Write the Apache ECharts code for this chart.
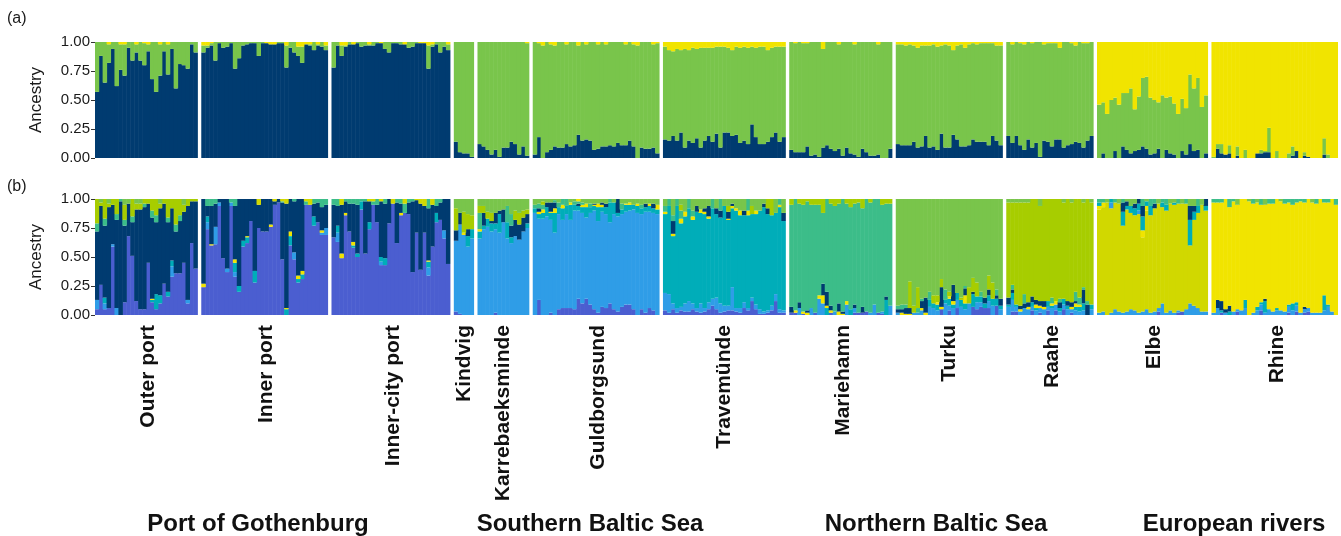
<!DOCTYPE html>
<html><head><meta charset="utf-8">
<script src="https://cdn.jsdelivr.net/npm/echarts@6/dist/echarts.min.js"></script>
<style>html,body{margin:0;padding:0;background:#fff}#c{width:1341px;height:536px}</style>
</head><body><div id="c"></div>
<script>
// ---------------- DATA ----------------
const blockNames = ['Outer port','Inner port','Inner-city port','Kindvig','Karrebaeksminde','Guldborgsund','Travemünde','Mariehamn','Turku','Raahe','Elbe','Rhine'];
const blockSizes = [26,32,30,5,13,32,31,26,27,22,28,32];
const regionNames = ['Port of Gothenburg','Southern Baltic Sea','Northern Baltic Sea','European rivers'];
const yTicks = [0,0.25,0.5,0.75,1];

// Panel (a) K=3 ancestry, one sub-array per population
const A_navy = [
 [.57,.88,.65,.82,.94,.62,.76,.71,.95,.84,.91,.84,.80,.92,.68,.57,.71,.92,.72,.94,.60,.81,.80,.77,.98,.91],
 [.91,.95,.97,.84,.99,.95,.96,.99,.77,.86,.97,.98,.99,.99,.88,.99,.99,.98,.98,.99,.99,.78,.95,.91,.88,.82,.98,.97,.93,.97,.96,.93],
 [.78,.97,.88,.96,.98,.98,.99,.96,.97,.97,.97,.99,.99,.94,.91,.99,.99,.98,.98,.95,.96,.99,.99,.99,.77,.96,.98,.91,.96,.93],
 [.14,.05,.04,.04,.01],
 [.12,.10,.07,.03,.07,.01,.09,.09,.14,.12,.03,.10,.02],
 [.03,.18,0,.05,.07,.10,.09,.09,.12,.10,.11,.20,.15,.16,.15,.07,.08,.10,.10,.11,.10,.13,.11,.11,.15,.10,0,.09,.08,.08,.09,.04],
 [.16,.15,.19,.15,.22,.09,.15,.13,.17,.09,.15,.19,.14,.21,.09,.22,.22,.19,.20,.13,.15,.12,.29,.18,.12,.12,.14,.18,.22,.14,.18],
 [.07,.05,.05,.05,.10,.02,.03,.01,.09,.11,.08,.06,.08,.02,.09,.04,.03,.01,.08,.05,.02,.02,.03,0,0,.08],
 [.12,.11,.11,.11,.14,.09,.10,.19,.09,.10,.07,.21,.09,.09,.20,.16,.10,.10,.11,.16,.14,.14,.14,.11,.19,.15,.11],
 [.19,.13,.19,.11,.07,.16,.09,.13,.01,.15,.14,.10,.16,.16,.09,.11,.12,.14,.13,.09,.15,.19],
 [0,.04,0,0,.06,0,.10,.07,.04,.06,.07,.10,.08,.03,.04,.08,0,.07,.04,.03,0,.06,.03,.12,.06,.07,0,.04],
 [0,.08,.04,.03,.04,0,.02,0,0,0,0,.04,.04,.05,.05,0,0,0,0,0,.02,.06,0,.02,.01,0,0,0,.03,0,0,0]
];
const A_green = [
 [.43,.12,.35,.16,.06,.38,.22,.27,.05,.16,.07,.16,.19,.06,.32,.43,.27,.08,.26,.06,.40,.19,.20,.23,.02,.09],
 [.06,.02,.02,.16,.01,.05,.04,.01,.23,.14,.03,.02,.01,.01,.12,.01,0,0,0,.01,.01,.19,.05,.09,.08,.14,0,.01,.07,.01,.04,.04],
 [.22,.03,.09,.01,.02,0,.01,.04,.03,.01,.03,.01,0,.06,.09,.01,.01,.02,0,.05,.04,.01,0,0,.20,.02,.02,.09,.04,.05],
 [.86,.95,.96,.96,.99],
 [.88,.90,.93,.97,.93,.99,.91,.91,.86,.88,.97,.90,.97],
 [.97,.81,.97,.95,.91,.87,.91,.91,.86,.90,.89,.77,.85,.82,.85,.93,.90,.90,.88,.89,.90,.87,.89,.87,.85,.88,.97,.91,.92,.92,.89,.95],
 [.80,.78,.73,.79,.71,.85,.78,.82,.77,.86,.80,.76,.81,.75,.87,.74,.73,.74,.76,.82,.81,.83,.67,.77,.84,.84,.79,.77,.74,.82,.78],
 [.93,.94,.95,.94,.89,.98,.97,.99,.85,.89,.92,.94,.90,.98,.91,.96,.95,.99,.92,.95,.98,.98,.95,1,1,.92],
 [.86,.87,.86,.87,.83,.86,.87,.78,.88,.88,.89,.76,.89,.88,.73,.81,.88,.85,.87,.83,.84,.85,.85,.88,.80,.82,.86],
 [.81,.85,.81,.88,.91,.84,.90,.87,.99,.83,.85,.89,.83,.79,.91,.89,.87,.83,.87,.90,.84,.81],
 [.46,.44,.38,.50,.46,.46,.46,.49,.56,.36,.46,.59,.62,.49,.46,.40,.54,.45,.49,.44,.38,.45,.40,.60,.54,.62,.44,.50],
 [.01,.04,.08,0,.07,0,.08,0,.07,0,0,0,.03,.01,.21,0,.06,0,0,.04,.08,0,0,.03,0,0,0,0,.14,.03,0,0]
];
const A_yellow = [
 [0,0,0,.02,0,0,.02,.02,0,0,.02,0,.01,.02,0,0,.02,0,.02,0,0,0,0,0,0,0],
 [.03,.03,.01,0,0,0,0,0,0,0,0,0,0,0,0,0,.01,.02,.02,0,0,.03,0,0,.04,.04,.02,.02,0,.02,0,.03],
 [0,0,.03,.03,0,.02,0,0,0,.02,0,0,.01,0,0,0,0,0,.02,0,0,0,.01,.01,.03,.02,0,0,0,.02],
 [0,0,0,0,0],
 [0,0,0,0,0,0,0,0,0,0,0,0,.01],
 [0,.01,.03,0,.02,.03,0,0,.02,0,0,.03,0,.02,0,0,.02,0,.02,0,0,0,0,.02,0,.02,.03,0,0,0,.02,.01],
 [.04,.07,.08,.06,.07,.06,.07,.05,.06,.05,.05,.05,.05,.04,.04,.04,.05,.07,.04,.05,.04,.05,.04,.05,.04,.04,.07,.05,.04,.04,.04],
 [0,.01,0,.01,.01,0,0,0,.06,0,0,0,.02,0,0,0,.02,0,0,0,0,0,.02,0,0,0],
 [.02,.02,.03,.02,.03,.05,.03,.03,.03,.02,.04,.03,.02,.03,.07,.03,.02,.05,.02,.01,.02,.01,.01,.01,.01,.03,.03],
 [0,.02,0,.01,.02,0,.01,0,0,.02,.01,.01,.01,.05,0,0,.01,.03,0,.01,.01,0],
 [.54,.52,.62,.50,.48,.54,.44,.44,.40,.58,.47,.31,.30,.48,.50,.52,.46,.48,.47,.53,.62,.49,.57,.28,.40,.31,.56,.46],
 [.99,.88,.88,.97,.89,1,.90,1,.93,1,1,.96,.93,.94,.74,1,.94,1,1,.96,.90,.94,1,.95,.99,1,1,1,.83,.97,1,1]
];

// Panel (b) ancestry, one sub-array per population ([] = cluster absent)
const B_purple = [
 [.05,.26,.05,.06,.59,0,0,.11,.68,.51,.12,.05,.05,.45,.11,.05,.10,.27,.16,.33,.36,.36,.45,.10,.62,.40],
 [.24,.74,.60,.61,.94,.49,.37,.94,.33,.20,.59,.62,.81,.28,.75,.72,.72,.76,.95,.97,.48,0,.60,.48,.28,.31,.95,.95,.77,.80,.69,.69],
 [.67,.63,.49,.86,.72,.58,.50,.91,.53,.74,.95,.80,.43,.43,.79,.96,.62,.86,.88,.87,.37,.71,.39,.71,.34,.59,.80,.82,.66,.44],
 [.03,.01,0,0,0],
 [0,0,0,0,.02,0,0,0,0,0,0,0,0],
 [0,.13,0,0,.02,0,.05,.06,.06,.06,.05,.14,.10,.14,.09,.05,.02,.07,.06,.10,.05,.03,.07,.09,.09,.05,0,.05,.02,.06,.04,0],
 [.04,.02,.05,.02,.04,.03,.03,.05,.03,.02,.03,.05,.08,.05,.02,.03,.04,.04,.03,.02,.06,.04,.12,.05,.01,.01,.02,.04,.12,.02,.02],
 [.02,.02,0,.01,0,0,.02,0,0,0,.02,0,0,0,0,0,.02,.02,.02,.03,0,0,.02,.01,0,0],
 [0,0,0,0,0,0,0,0,0,0,0,.05,0,.04,0,.06,0,0,0,.07,.05,.07,.06,.06,0,.08,0],
 [0,.03,.03,0,0,0,.04,0,.02,0,.04,0,.04,0,.05,0,.02,0,0,0,0,0],
 [0,0,0,0,0,0,0,0,0,0,0,0,0,0,0,.03,0,0,0,0,.02,.03,0,0,0,0,0,0],
 [0,0,.02,0,0,0,.03,0,0,0,0,0,.04,0,0,0,0,0,0,.02,0,.03,0,.02,.03,0,0,0,0,0,0,0]
];
const B_lblue = [
 [.08,0,.05,0,.02,.06,0,0,0,0,0,0,0,0,0,0,0,0,0,.09,0,0,0,.03,0,0],
 [0,.06,0,.15,.03,0,.03,.03,.04,0,0,0,0,0,0,0,0,0,0,0,0,0,0,.06,0,0,0,0,0,0,.02,.06],
 [0,.08,0,0,0,0,0,0,0,0,0,0,.03,0,0,0,0,0,0,0,0,0,0,0,.07,0,0,0,.07,0],
 [.61,.77,.69,.59,.66],
 [.66,.74,.76,.72,.72,.71,.80,.66,.62,.68,.65,.72,.75],
 [.88,.70,.83,.85,.80,.71,.82,.76,.81,.76,.85,.76,.78,.70,.79,.85,.79,.82,.81,.70,.82,.82,.80,.80,.81,.86,.88,.82,.87,.83,.84,.87],
 [.15,.16,.05,.04,.03,.07,.09,.05,.03,.08,.03,.06,.06,.10,.08,.05,.04,.20,.03,.04,.05,.02,.03,.04,.04,.02,.02,.04,.06,.03,.02],
 [0,0,.06,0,0,.06,0,.14,.10,0,0,.03,0,0,.09,0,.04,0,0,0,.02,.09,0,.02,0,.08],
 [.02,0,0,0,.02,.02,.04,0,.07,.06,.04,0,.10,.04,.06,.07,.07,.05,.10,0,.06,.04,0,.06,.08,0,.05],
 [.07,.10,.04,.03,.06,.05,.03,.04,.04,.05,.03,.06,.05,.03,.04,.05,.03,.04,.03,.04,0,.05],
 [.02,.03,0,.02,.05,.03,.02,.03,.05,.04,.02,.03,.05,.02,.03,.03,.10,.02,.04,.02,.02,0,.05,.10,.08,.06,.03,.03],
 [.02,.06,0,.02,0,.03,.02,.04,.06,0,.02,.04,.05,.02,.05,.03,.04,.04,.03,.05,.04,.05,.02,.03,.03,.02,.02,.02,.04,.07,.03,0]
];
const B_teal = [
 [0,0,.05,0,0,0,0,0,0,0,0,0,0,0,.02,.13,.07,0,.04,.05,0,0,0,0,0,0],
 [0,.05,0,0,0,0,0,0,.08,.05,.05,.05,0,.10,0,0,0,0,0,0,0,.05,.08,0,.03,.04,0,0,.08,0,0,0],
 [0,.06,0,0,0,.02,.03,.07,0,.06,0,0,.04,.06,0,0,0,0,0,0,0,0,0,0,.05,0,.08,0,0,0],
 [0,0,0,.09,.08],
 [.06,.03,.07,.07,.05,.16,0,.14,.05,0,0,0,.04],
 [.04,.04,.05,.08,.06,.17,.06,.10,.07,.13,.05,.04,.05,.09,.05,.04,.12,.04,.06,.17,.10,.03,.04,.06,.05,.04,.06,.05,.04,.05,.04,.04],
 [.68,.76,.58,.88,.72,.75,.80,.72,.83,.78,.81,.72,.78,.72,.74,.86,.74,.68,.84,.80,.75,.80,.72,.78,.85,.90,.83,.78,.70,.88,.77],
 [0,0,0,0,0,0,0,0,0,.06,0,0,0,0,0,.05,0,0,0,0,0,0,0,0,.13,0],
 [0,0,0,0,0,0,0,0,.06,.04,.05,0,.03,.06,.03,.06,.06,.05,0,.11,.05,.05,.04,.05,.06,.06,.03],
 [.02,.06,.02,0,0,0,.04,.02,0,0,.05,.02,0,.03,.05,.03,0,.03,.04,.06,0,.04],
 [],
 [0,0,.02,0,.03,0,0,0,.07,0,0,.03,.02,.10,0,0,.02,0,0,.02,.06,.03,0,0,0,0,0,0,.13,.02,0,0]
];
const B_yelLow = [
 [0,0,0,0,0,0,0,0,0,0,0,0,0,0,.01,0,0,0,0,0,0,0,0,0,0,0],
 [.03,0,.01,0,0,0,0,0,.03,0,0,.01,0,0,0,0,0,.02,0,0,0,.01,.04,0,.03,.03,0,0,0,0,.02,0],
 [0,0,.04,.02,0,.03,0,0,0,0,0,0,0,0,0,0,0,.02,0,0,0,0,0,0,.01,0,0,0,0,0],
 [0,0,.02,0,0],
 [.02,0,0,0,0,0,0,0,0,0,0,0,0],
 [0,.02,.03,0,.01,.04,0,.03,0,.02,0,0,.02,.03,0,.01,.03,.02,0,0,0,0,0,.01,.02,0,.02,0,0,.02,0,.04],
 [.02,0,.02,0,.04,.04,0,.03,0,.03,.02,.02,0,0,0,0,.01,.02,.02,.04,0,.04,0,.03,0,0,0,0,0,.02,0],
 [0,.02,0,.02,.02,0,0,.03,.07,.02,.02,0,.03,.01,.03,0,0,0,0,0,0,0,0,0,0,0],
 [0,.02,.01,.01,0,0,.02,.02,0,0,.02,.02,0,.02,.03,0,0,.07,0,0,0,0,0,0,0,0,0],
 [0,0,0,.02,0,.02,0,.03,.02,.02,0,.02,.03,0,0,0,.02,.03,.02,0,0,0],
 [], []
];
const B_navy = [
 [.59,.68,.62,.87,.34,.76,.98,.66,.28,.29,.79,.86,.88,.51,.70,.62,.75,.69,.60,.45,.36,.45,.44,.81,.36,.58],
 [.73,.09,.33,.20,.03,.51,.60,0,.46,.75,.36,.32,.19,.62,.20,.28,.28,.22,.03,.03,.49,.90,.28,.44,.66,.62,0,0,.11,.17,.20,.20],
 [.28,.17,.42,.10,.24,.33,.42,0,.45,.18,0,.15,.48,.47,.21,0,.35,.08,0,.10,.61,.28,.57,.23,.45,.36,.06,.15,.27,.56],
 [.09,.10,0,.06,0],
 [0,.11,0,.02,.09,.03,.11,0,.10,.14,.13,.12,.08],
 [0,.03,0,.04,.08,.05,0,0,0,0,0,.02,0,0,0,.01,0,.02,.03,0,0,.12,0,0,0,0,0,0,.03,0,.04,0],
 [0,0,.11,0,0,0,0,0,.05,0,.03,.09,0,.05,.06,0,.06,.02,0,0,.04,0,0,0,0,.03,.05,0,0,0,.07],
 [.05,0,.05,0,.02,0,0,0,.10,.12,.04,0,.07,.02,0,0,.03,0,.05,0,0,0,0,0,.03,0],
 [.03,.03,.05,.05,0,0,.06,.13,0,0,0,.17,0,0,.14,0,0,.06,0,.02,0,0,.05,.05,0,.03,.06],
 [.06,.03,0,.03,.04,.04,.05,.04,.04,.05,0,0,0,.05,0,.04,.04,.02,0,.12,.09,0],
 [],
 [0,.07,.08,.03,.05,0,0,0,0,0,0,0,0,.02,0,0,0,0,0,0,0,0,0,.02,0,0,0,0,0,0,0,0]
];
const B_tgreen = [
 [.07,0,.06,0,0,.05,.02,.05,0,.05,0,0,.03,0,.06,.06,0,0,.04,0,.06,.05,0,0,0,0],
 [0,.06,.06,.04,0,0,0,.03,.06,0,0,0,0,0,0,0,0,0,0,0,.01,0,0,.02,0,0,.03,0,.04,.03,.07,.05],
 [.05,.06,0,.02,.04,.04,.05,.02,.02,0,.03,.05,0,.04,0,0,.03,.04,.08,.03,.02,0,0,0,.08,0,.06,.03,0,0],
 [],
 [.14,0,0,0,0,0,0,.14,.10,0,0,0,0],
 [.03,.04,.04,0,0,.02,.04,.05,.06,0,.03,.02,.02,0,.03,0,0,0,0,.03,0,0,.05,0,0,0,0,.03,0,0,0,0],
 [.05,.06,.05,.06,.07,0,.08,.05,0,0,0,0,.08,0,.10,0,0,0,0,0,0,.10,0,0,0,0,0,0,0,.05,0],
 [.88,.96,.85,.92,.94,.89,.93,.78,.61,.80,.88,.91,.86,.97,.84,.88,.87,.95,.85,.97,.95,.91,.98,.92,.80,.88],
 [.03,.04,.03,0,0,.04,.02,0,.07,0,0,0,.09,0,0,0,0,.02,0,0,0,.04,0,0,0,.05,0],
 [0,.04,0,0,.08,0,0,0,0,0,0,.05,0,.03,0,0,0,.08,.06,.02,.03,0],
 [], []
];
const B_ygreen = [
 [.21,.03,.17,.03,.05,.13,0,.13,0,.15,.05,.05,.04,.04,.10,.14,.04,.04,.16,.08,.22,.14,.06,.06,.02,.02],
 [], [],
 [.19,0,.18,.13,.12],
 [.06,.06,.06,.07,0,0,0,0,0,.08,.10,.06,.04],
 [0,0,.03,0,0,0,0,0,0,0,0,0,0,0,0,0,0,0,0,0,0,0,0,0,0,0,0,0,0,0,0,0],
 [0,0,0,0,.05,0,0,0,0,0,0,0,0,0,0,0,.05,0,0,0,0,0,.07,0,0,0,.08,.14,0,0,0],
 [.05,0,.04,.05,.02,.05,.05,.05,.12,0,.04,.06,.04,0,.04,.07,.04,.03,.08,0,.03,0,0,.05,.04,.04],
 [0,0,0,.23,.06,.18,0,0,0,.07,.06,.07,0,.04,0,0,.02,0,.14,.12,.12,0,0,.12,.14,0,0],
 [.82,.71,.88,.89,.79,.86,.84,.87,.82,.88,.88,.85,.88,.86,.83,.88,.86,.80,.85,.73,.88,.88],
 [], []
];
const B_green = [
 [0,.03,0,.04,0,0,0,.05,.04,0,.04,.04,0,0,0,0,.04,0,0,0,0,0,.05,0,0,0],
 [], [],
 [.08,.12,.11,.13,.14],
 [.06,.06,.11,.12,.12,.10,.09,.06,.13,.10,.12,.10,.09],
 [.05,.04,.02,.03,.03,.01,.03,0,0,.03,.02,0,.03,.04,.04,.04,.04,.03,.04,0,.03,0,.04,.04,.03,.05,.04,.05,.04,.04,.04,.05],
 [.06,0,.14,0,.05,.11,0,.10,.06,.09,.08,.06,0,.08,0,.06,.06,.04,.08,.10,.10,0,.06,.10,.10,.04,0,0,.12,0,.12],
 [],
 [.92,.91,.91,.71,.92,.76,.86,.85,.80,.83,.83,.69,.78,.80,.74,.81,.85,.75,.76,.68,.72,.80,.85,.66,.72,.78,.86],
 [.03,.03,.03,.03,.03,.03,0,0,.06,0,0,0,0,0,.03,0,.03,0,0,.03,0,.03],
 [], []
];
const B_olive = [
 [],
 [0,0,0,0,0,0,0,0,0,0,0,0,0,0,.05,0,0,0,.02,0,.02,.04,0,0,0,0,.02,.05,0,0,0,0],
 [0,0,.05,0,0,0,0,0,0,.02,.02,0,.02,0,0,.04,0,0,.04,0,0,.01,.04,.06,0,.05,0,0,0,0],
 [], [], [], [], [], [], [],
 [.89,.90,.97,.90,.92,.93,.75,.88,.83,.82,.85,.64,.85,.84,.89,.90,.83,.88,.92,.93,.92,.93,.91,.50,.74,.82,.92,.87],
 []
];
const B_yellow = [
 [], [], [], [], [],
 [0,0,0,0,0,0,0,0,0,0,0,.02,0,0,0,0,0,0,0,0,0,0,0,0,0,0,0,0,0,0,0,0],
 [], [], [], [],
 [.03,.04,0,0,0,0,0,0,0,0,0,.06,.04,0,0,0,0,0,0,0,0,0,0,0,0,0,0,0],
 [.95,.84,.85,.95,.85,.95,.90,.96,.87,.98,.94,.90,.84,.81,.91,.93,.94,.94,.93,.88,.85,.86,.96,.90,.94,.95,.94,.98,.80,.88,.97,.95]
];
// specks drawn above the main cluster in the river samples
const B_lblueTop = [[],[],[],[],[],[],[],[],[],[],
 [0,0,0,.05,0,0,0,0,0,0,.03,0,0,0,0,0,0,0,0,0,0,0,0,0,0,0,0,0], []];
const B_tealTop = [[],[],[],[],[],[],[],[],[],[],
 [.03,0,0,.03,0,0,.12,.03,.06,.06,.06,.12,.04,.08,0,0,.04,.05,0,.02,0,0,0,.22,.07,.06,0,.04], []];
const B_navyTop = [[],[],[],[],[],[],[],[],[],[],
 [0,0,0,0,0,0,.08,.04,0,.04,.04,.09,0,0,.04,0,0,0,0,0,0,0,0,.12,.05,0,0,.06], []];
const B_tgTop = [[],[],[],[],[],[],[],[],[],[],
 [.03,.03,0,0,.03,0,.03,0,0,0,0,.06,0,.06,.04,0,.03,.05,0,0,.04,0,.04,0,0,.06,0,0],
 [.03,.03,.03,0,.07,.02,0,0,0,0,.04,0,.05,0,.04,.04,0,0,.04,.03,.05,.03,.02,.03,0,0,.04,0,.03,.03,0,.05]];
const B_greenTop = [[],[],[],[],[],[],[],[],[],[],
 [0,0,.03,0,0,.04,0,.02,.06,.04,0,0,.02,0,0,.04,0,0,.04,.03,0,.04,0,.06,.06,0,.05,0],
 [0,0,0,0,0,0,.05,0,0,.02,0,.03,0,.05,0,0,0,.02,0,0,0,0,0,0,0,.03,0,0,0,0,0,0]];

// ---------------- BUILD ----------------
const cats = [], catBlock = [], catIdx = [], labelAt = {};
blockSizes.forEach((n, b) => {
  if (b > 0) { cats.push('gap' + b); catBlock.push(-1); catIdx.push(-1); }
  const start = cats.length;
  for (let i = 0; i < n; i++) { cats.push('b' + b + '_' + i); catBlock.push(b); catIdx.push(i); }
  labelAt[start + Math.floor(n / 2)] = blockNames[b];
});
function flat(arr) {
  return cats.map((c, k) => {
    const b = catBlock[k];
    if (b < 0) return null;
    const sub = arr[b] || [];
    const v = sub[catIdx[k]];
    return v == null ? 0 : v;
  });
}
const C = {
  navy: '#003b70', green: '#79c54b', yellow: '#f1e400', purple: '#4b5ed0', lblue: '#2f9de7',
  teal: '#00adb9', tgreen: '#3cbd89', ygreen: '#a7cd00', olive: '#d1d800'
};
const A_list = [[A_navy, C.navy], [A_green, C.green], [A_yellow, C.yellow]];
const B_list = [
  [B_purple, C.purple], [B_lblue, C.lblue], [B_teal, C.teal], [B_yelLow, C.yellow], [B_navy, C.navy],
  [B_tgreen, C.tgreen], [B_ygreen, C.ygreen], [B_green, C.green], [B_olive, C.olive], [B_yellow, C.yellow],
  [B_lblueTop, C.lblue], [B_tealTop, C.teal], [B_navyTop, C.navy], [B_tgTop, C.tgreen], [B_greenTop, C.green]
];
const BAR_W = 4.5; // slightly wider than a category so neighbouring bars overlap (no seams)
const series = [];
A_list.forEach(([arr, col]) => series.push({
  type: 'bar', xAxisIndex: 0, yAxisIndex: 0, stack: 'a', data: flat(arr),
  barWidth: BAR_W, itemStyle: { color: col }, silent: true
}));
B_list.forEach(([arr, col]) => series.push({
  type: 'bar', xAxisIndex: 1, yAxisIndex: 1, stack: 'b', data: flat(arr),
  barWidth: BAR_W, itemStyle: { color: col }, silent: true
}));

const FONT = 'Liberation Sans, Arial, Helvetica, sans-serif';
function yAx(g) {
  return {
    gridIndex: g, type: 'value', min: yTicks[0], max: yTicks[yTicks.length - 1], interval: 0.25,
    axisLine: { show: false }, splitLine: { show: false },
    axisTick: { show: true, length: 4, lineStyle: { color: '#333', width: 1 } },
    axisLabel: { formatter: v => v.toFixed(2), fontSize: 15, color: '#1a1a1a', margin: 5, fontFamily: FONT },
    name: 'Ancestry', nameLocation: 'middle', nameGap: 50,
    nameTextStyle: { fontSize: 17, color: '#1a1a1a', fontFamily: FONT }
  };
}
function xAx(g, showLabels) {
  return {
    gridIndex: g, type: 'category', data: cats,
    axisLine: { show: false }, axisTick: { show: false }, splitLine: { show: false },
    axisLabel: showLabels ? {
      show: true, rotate: 90, interval: (i) => labelAt[i] !== undefined,
      formatter: (v, i) => labelAt[i] || '', fontSize: 21, fontWeight: 'bold', color: '#111',
      margin: 10, fontFamily: FONT
    } : { show: false }
  };
}

const chart = echarts.init(document.getElementById('c'), null, { renderer: 'canvas' });
chart.setOption({
  animation: false,
  backgroundColor: '#ffffff',
  textStyle: { fontFamily: FONT },
  grid: [
    { left: 95, right: 3, top: 42, height: 116 },
    { left: 95, right: 3, top: 199, height: 116 }
  ],
  xAxis: [xAx(0, false), xAx(1, true)],
  yAxis: [yAx(0), yAx(1)],
  series: series,
  graphic: [
    { type: 'text', left: 7, top: 11, style: { text: '(a)', fontSize: 16, fill: '#1a1a1a', fontFamily: FONT } },
    { type: 'text', left: 7, top: 179, style: { text: '(b)', fontSize: 16, fill: '#1a1a1a', fontFamily: FONT } },
    { type: 'text', x: 258, y: 524, style: { text: regionNames[0], fontSize: 24, fontWeight: 'bold', fill: '#111', align: 'center', verticalAlign: 'middle', fontFamily: FONT } },
    { type: 'text', x: 590, y: 524, style: { text: regionNames[1], fontSize: 24, fontWeight: 'bold', fill: '#111', align: 'center', verticalAlign: 'middle', fontFamily: FONT } },
    { type: 'text', x: 936, y: 524, style: { text: regionNames[2], fontSize: 24, fontWeight: 'bold', fill: '#111', align: 'center', verticalAlign: 'middle', fontFamily: FONT } },
    { type: 'text', x: 1234, y: 524, style: { text: regionNames[3], fontSize: 24, fontWeight: 'bold', fill: '#111', align: 'center', verticalAlign: 'middle', fontFamily: FONT } }
  ]
});
</script>
</body></html>
